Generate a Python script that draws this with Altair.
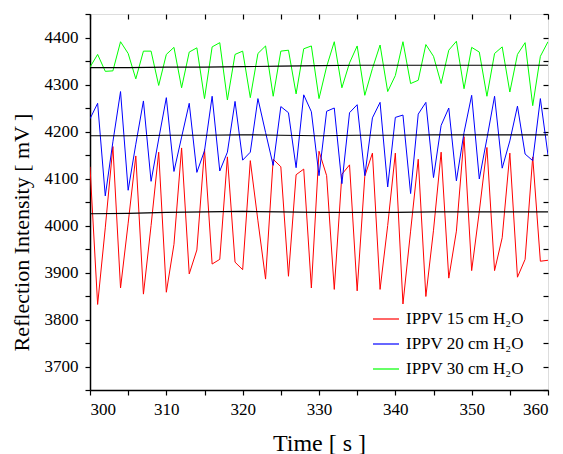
import altair as alt
import pandas as pd

# ---- data ----
time_s = list(range(300, 361))

red_15 = [4125, 3832, 3995, 4168, 3867, 4005, 4148, 3854, 4000, 4156,
          3858, 3960, 4165, 3897, 3948, 4162, 3918, 3928, 4146, 3922,
          3906, 4138, 4010, 3886, 4141, 4125, 3892, 4108, 4120, 3867,
          4158, 4106, 3864, 4109, 4129, 3861, 4105, 4154, 3864, 4000,
          4154, 3833, 3988, 4141, 3849, 3990, 4156, 3888, 3988, 4189,
          3904, 4030, 4166, 3904, 3974, 4154, 3890, 3928, 4146, 3924,
          3926]

blue_20 = [4227, 4260, 4063, 4178, 4285, 4075, 4173, 4265, 4094, 4184,
           4272, 4115, 4188, 4260, 4113, 4159, 4275, 4116, 4156, 4264,
           4139, 4156, 4270, 4198, 4128, 4253, 4240, 4123, 4278, 4242,
           4106, 4243, 4250, 4089, 4240, 4257, 4106, 4229, 4262, 4082,
           4230, 4235, 4068, 4237, 4262, 4102, 4213, 4250, 4095, 4198,
           4277, 4099, 4185, 4275, 4122, 4180, 4254, 4152, 4138, 4270,
           4150]

green_30 = [4337, 4364, 4328, 4329, 4391, 4366, 4312, 4371, 4371, 4298,
            4364, 4379, 4293, 4369, 4378, 4270, 4380, 4389, 4267, 4364,
            4371, 4272, 4366, 4382, 4275, 4371, 4373, 4280, 4376, 4382,
            4270, 4338, 4391, 4293, 4346, 4382, 4277, 4334, 4384, 4285,
            4319, 4391, 4302, 4309, 4385, 4360, 4302, 4373, 4392, 4291,
            4379, 4369, 4275, 4366, 4380, 4284, 4364, 4389, 4255, 4360,
            4391]

base_time = [300, 305, 310, 315, 320, 325, 330, 335, 340, 345, 350, 355, 360]
base_15 = [4025, 4026, 4028, 4029, 4030, 4029, 4028, 4028, 4028, 4029, 4029, 4029, 4029]
base_20 = [4191, 4191, 4192, 4192, 4193, 4192, 4191, 4192, 4192, 4193, 4193, 4193, 4193]
base_30 = [4336, 4336, 4337, 4337, 4338, 4339, 4340, 4341, 4341, 4341, 4341, 4341, 4341]

series_names = ["IPPV 15 cm H\u2082O", "IPPV 20 cm H\u2082O", "IPPV 30 cm H\u2082O"]
series_colors = ["#ff0000", "#0000ff", "#00ff00"]

x_ticks = list(range(300, 361, 5))
y_ticks = list(range(3650, 4451, 50))

# ---- tables ----
rows = []
for name, vals in zip(series_names, [red_15, blue_20, green_30]):
    for t, v in zip(time_s, vals):
        rows.append({"t": t, "v": v, "series": name})
df = pd.DataFrame(rows)

brows = []
for name, vals in zip(series_names, [base_15, base_20, base_30]):
    for t, v in zip(base_time, vals):
        brows.append({"t": t, "v": v, "grp": name})
dfb = pd.DataFrame(brows)

FONT = "Liberation Serif"
xscale = alt.Scale(domain=[300, 360], nice=False, zero=False)
yscale = alt.Scale(domain=[3650, 4450], nice=False, zero=False)

common_axis = dict(grid=False, tickColor="black", tickWidth=1.2, tickSize=5,
                   domainColor="black", domainWidth=1.5,
                   labelFont=FONT, labelFontSize=17, labelColor="black",
                   titleFont=FONT, titleFontWeight="normal",
                   titleColor="black")

x_bottom = alt.Axis(orient="bottom", values=x_ticks,
                    labelExpr="datum.value % 10 === 0 ? datum.label : ''",
                    format="d", labelPadding=6, titlePadding=14,
                    titleFontSize=24, title="Time [ s ]", **common_axis)
y_left = alt.Axis(orient="left", values=y_ticks,
                  labelExpr="datum.value % 100 === 0 ? datum.label : ''",
                  format="d", labelPadding=7, titlePadding=11, titleY=218,
                  titleFontSize=22,
                  title="Reflection Intensity [ mV ]", **common_axis)

x_top = alt.Axis(orient="top", values=x_ticks, labels=False, domain=False,
                 offset=-5, tickSize=5, tickColor="black", tickWidth=1.2,
                 grid=False, title="")
y_right = alt.Axis(orient="right", values=y_ticks, labels=False, domain=False,
                   offset=-5, tickSize=5, tickColor="black", tickWidth=1.2,
                   grid=False, title="")

lines = alt.Chart(df).mark_line(strokeWidth=1, clip=True).encode(
    x=alt.X("t:Q", scale=xscale, axis=x_bottom),
    y=alt.Y("v:Q", scale=yscale, axis=y_left),
    color=alt.Color("series:N",
                    scale=alt.Scale(domain=series_names, range=series_colors),
                    legend=alt.Legend(orient="none", legendX=282, legendY=291,
                                      title=None, symbolType="stroke",
                                      symbolSize=676, symbolStrokeWidth=1.2,
                                      labelFont=FONT, labelFontSize=17,
                                      labelColor="black", labelOffset=6,
                                      rowPadding=3, padding=0)),
    order=alt.Order("t:Q"),
)

baselines = alt.Chart(dfb).mark_line(strokeWidth=1.2, color="black").encode(
    x=alt.X("t:Q", scale=xscale, axis=x_top),
    y=alt.Y("v:Q", scale=yscale, axis=y_right),
    detail="grp:N",
)

chart = alt.layer(lines, baselines).properties(
    width=458, height=376,
    padding={"left": 82, "top": 6, "right": 7, "bottom": 64},
    autosize=alt.AutoSizeParams(type="none"),
).configure_view(stroke="black", strokeWidth=1.5).configure(background="white", font=FONT)

chart.save("out.html", embed_options={"renderer": "svg", "actions": False})
